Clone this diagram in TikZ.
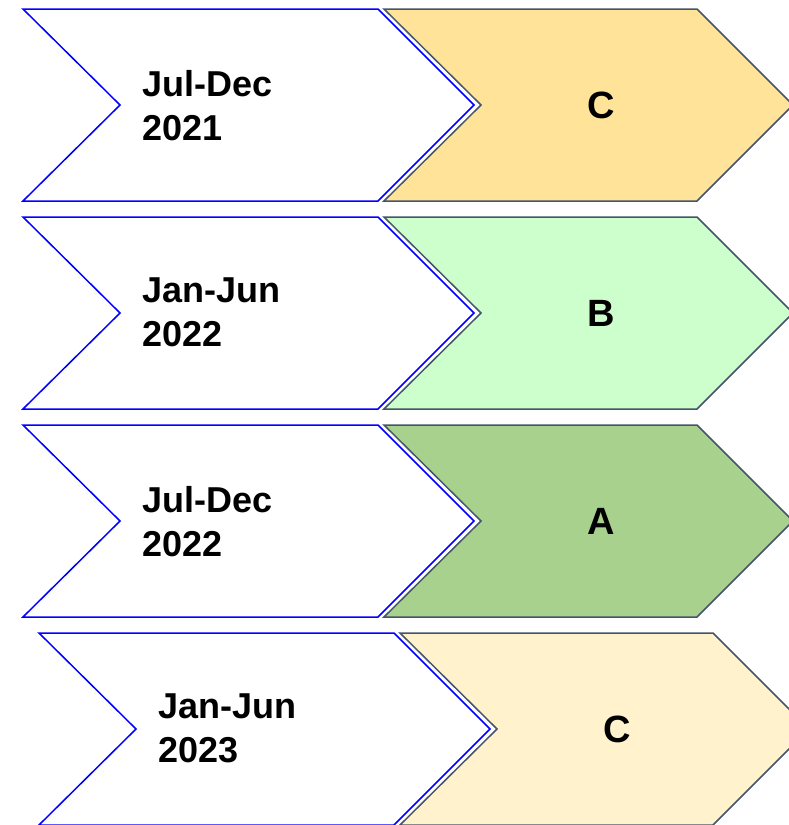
\documentclass[tikz,border=0pt]{standalone}
\usepackage{fontspec}
\setmainfont{Liberation Sans}
\definecolor{edgegray}{HTML}{44546A}
\definecolor{goldC}{HTML}{FFE399}
\definecolor{mintB}{HTML}{CCFFCC}
\definecolor{greenA}{HTML}{A9D18E}
\definecolor{creamC}{HTML}{FFF2CC}
\begin{document}
\begin{tikzpicture}[x=1pt,y=-1pt,
  period/.style={draw=blue,line width=1.5pt,fill=white},
  grade/.style={draw=edgegray,line width=1.5pt},
  txt/.style={font=\fontsize{36}{44}\selectfont\bfseries,inner sep=0pt},
  mark txt/.style={font=\fontsize{38}{44}\selectfont\bfseries,inner sep=0pt}]
\useasboundingbox (0,0) rectangle (789,825);
\foreach \t/\s/\col/\per/\gr [count=\i] in
  {9/0/goldC/{Jul-Dec\\2021}/C, 217/0/mintB/{Jan-Jun\\2022}/B,
   425/0/greenA/{Jul-Dec\\2022}/A, 633/16/creamC/{Jan-Jun\\2023}/C}
{
  \begin{scope}[xshift=\s pt,yshift=-\t pt]
    \draw[period] (23,0) -- (378,0) -- (474,96) -- (378,192) -- (23,192) -- (120,96) -- cycle;
    \draw[grade,fill=\col] (384,0) -- (697,0) -- (793,96) -- (697,192) -- (384,192) -- (481,96) -- cycle;
    \node[txt,align=left,anchor=north west] (per\i) at (142,61) {\per};
    \node[mark txt] (grade\i) at (601,96) {\gr};
  \end{scope}
}
\end{tikzpicture}
\end{document}
